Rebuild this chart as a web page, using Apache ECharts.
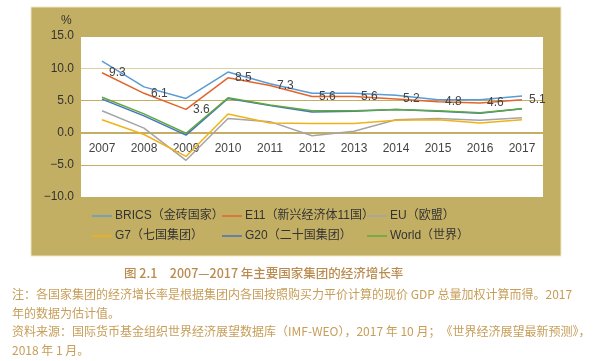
<!DOCTYPE html>
<html><head><meta charset="utf-8">
<script src="https://cdn.jsdelivr.net/npm/echarts@6/dist/echarts.min.js"></script>
<style>html,body{margin:0;padding:0;background:#fff}#c{width:593px;height:361px}</style>
</head><body><div id="c"></div>
<script>
const categories = ['2007','2008','2009','2010','2011','2012','2013','2014','2015','2016','2017'];
const brics = [11.1, 7.1, 5.3, 9.4, 7.6, 6.1, 6.1, 5.8, 5.1, 5.1, 5.7];
const e11   = [9.3, 6.1, 3.6, 8.5, 7.3, 5.6, 5.6, 5.2, 4.8, 4.6, 5.1];
const eu    = [3.4, 0.7, -4.3, 2.2, 1.7, -0.5, 0.2, 2.0, 2.2, 1.9, 2.3];
const g7    = [2.0, -0.3, -3.7, 2.9, 1.5, 1.4, 1.4, 1.9, 2.0, 1.5, 2.0];
const g20   = [5.2, 2.6, -0.4, 5.3, 4.2, 3.2, 3.3, 3.6, 3.3, 3.0, 3.7];
const world = [5.5, 2.9, -0.1, 5.4, 4.3, 3.4, 3.4, 3.6, 3.4, 3.1, 3.7];
const seriesNames = ['BRICS（金砖国家）','E11（新兴经济体11国）','EU（欧盟）','G7（七国集团）','G20（二十国集团）','World（世界）'];
const yTicks = {min: -10, max: 15, interval: 5};
const caption = '图 2.1　2007—2017 年主要国家集团的经济增长率';
const notes = '注：各国家集团的经济增长率是根据集团内各国按照购买力平价计算的现价 GDP 总量加权计算而得。2017\n年的数据为估计值。\n资料来源：国际货币基金组织世界经济展望数据库（IMF-WEO），2017 年 10 月；《世界经济展望最新预测》，\n2018 年 1 月。';

const FONT = '"Liberation Sans","Noto Sans CJK SC",sans-serif';
const TAN = '#c3af64';
const colors = ['#5b9bd5','#e2652c','#a5a5a5','#f0b21a','#4472c4','#5fa83c'];
const datas = [brics, e11, eu, g7, g20, world];

const chart = echarts.init(document.getElementById('c'), null, {renderer:'canvas'});
const series = datas.map((d,i)=>({
  name: seriesNames[i], type:'line', data:d, symbol:'circle', symbolSize:0.01, showSymbol:true, smooth:false,
  lineStyle:{color:colors[i], width:1.5}, itemStyle:{color:colors[i]},
  z: 3 + i,
  label: i===1 ? {show:true, position:'right', distance:7, fontSize:12, color:'#444', fontFamily:FONT,
     formatter: p => p.value.toFixed(1)} : {show:false}
}));
const legendBase = {orient:'vertical', top:205, itemWidth:20, itemHeight:12, itemGap:8, icon:'path://M0,5L20,5L20,6.5L0,6.5Z',
  textStyle:{fontSize:12, color:'#333', fontFamily:FONT, padding:[0,0,0,-2]}};
chart.setOption({
  backgroundColor:'#fff',
  animation:false,
  graphic:[
    {type:'rect', shape:{x:31, y:7, width:530, height:249}, style:{fill:TAN, stroke:'#efe6c4', lineWidth:1}, z:-10},
    {type:'text', left:61, top:15, style:{text:'%', fontSize:12, fill:'#333', fontFamily:FONT}},
    {type:'text', left:124, top:267, style:{text:caption, fontSize:12.5, fontWeight:500, fill:'#b98b4f', fontFamily:'"Noto Sans CJK SC",sans-serif'}},
    {type:'text', left:12, top:285, style:{text:notes, fontSize:12, lineHeight:18.7, fill:'#c79d58', fontFamily:'"Noto Sans CJK SC",sans-serif'}}
  ],
  legend:[
    Object.assign({}, legendBase, {left:87, data:[seriesNames[0], seriesNames[3]]}),
    Object.assign({}, legendBase, {left:217, data:[seriesNames[1], seriesNames[4]]}),
    Object.assign({}, legendBase, {left:362, data:[seriesNames[2], seriesNames[5]]})
  ],
  grid:{left:81, top:36, right:50, bottom:164, show:true, backgroundColor:'#fff', borderWidth:0},
  xAxis:{type:'category', data:categories, boundaryGap:true, offset:-64,
    axisLine:{show:true, onZero:false, lineStyle:{color:TAN}}, axisTick:{show:false},
    axisLabel:{fontSize:12, color:'#444', margin:10, fontFamily:FONT}},
  yAxis:{type:'value', min:yTicks.min, max:yTicks.max, interval:yTicks.interval,
    axisLine:{show:false}, axisTick:{show:false},
    axisLabel:{fontSize:12, color:'#333', margin:7, fontFamily:FONT,
      formatter: v => (v<0 ? '−' + Math.abs(v).toFixed(1) : v.toFixed(1))},
    splitLine:{show:true, lineStyle:{color:[TAN, TAN, TAN, TAN, '#ddd0a2', TAN], width:1}}},
  series: series
});
</script></body></html>
